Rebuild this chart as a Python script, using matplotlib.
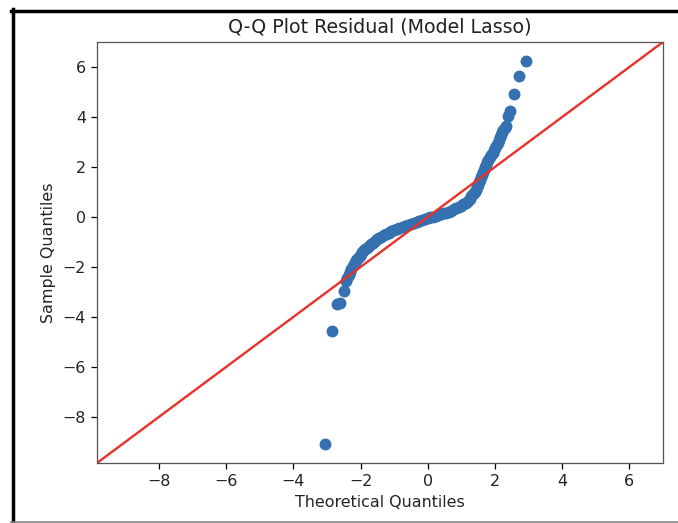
import matplotlib
matplotlib.use("Agg")
import matplotlib.pyplot as plt
from matplotlib.lines import Line2D

# Q-Q points (theoretical, sample)
theo_q = [
    -3.05, -2.84, -2.69, -2.61, -2.50,
    -2.43, -2.39, -2.35, -2.31, -2.27, -2.23, -2.19, -2.16,
    -2.12, -2.08, -2.03, -1.99, -1.95,
    -1.90, -1.86, -1.80, -1.75, -1.70,
    -1.64, -1.57, -1.51, -1.44, -1.38,
    -1.30, -1.23, -1.15, -1.08, -1.00,
    -0.92, -0.84, -0.75, -0.67, -0.58, -0.50,
    -0.42, -0.33, -0.25, -0.17, -0.08, 0.00,
    0.08, 0.16, 0.24, 0.32, 0.40, 0.48, 0.55, 0.63,
    0.70, 0.78, 0.85, 0.92, 0.99, 1.06, 1.14,
    1.20, 1.25, 1.30, 1.35, 1.40, 1.44,
    1.47, 1.50, 1.53, 1.56, 1.59,
    1.62, 1.65, 1.68, 1.71, 1.74, 1.77,
    1.81, 1.85, 1.89, 1.93, 1.97, 2.00, 2.04,
    2.08, 2.11, 2.15, 2.18, 2.22, 2.25,
    2.29, 2.33, 2.40, 2.46, 2.57, 2.72, 2.93,
]
sample_q = [
    -9.08, -4.56, -3.50, -3.45, -2.96,
    -2.56, -2.44, -2.32, -2.20, -2.09, -1.98, -1.90, -1.84,
    -1.74, -1.65, -1.55, -1.47, -1.40,
    -1.33, -1.28, -1.22, -1.14, -1.08,
    -1.02, -0.95, -0.89, -0.83, -0.78,
    -0.72, -0.67, -0.62, -0.57, -0.52,
    -0.48, -0.44, -0.40, -0.36, -0.32, -0.28,
    -0.24, -0.20, -0.16, -0.12, -0.08, -0.04,
    -0.01, 0.02, 0.05, 0.08, 0.11, 0.15, 0.18, 0.22,
    0.26, 0.31, 0.36, 0.41, 0.46, 0.52, 0.58,
    0.66, 0.74, 0.83, 0.92, 1.01, 1.10,
    1.20, 1.30, 1.40, 1.50, 1.60,
    1.70, 1.80, 1.90, 2.00, 2.10, 2.20,
    2.30, 2.39, 2.49, 2.58, 2.68, 2.77, 2.86,
    2.97, 3.08, 3.19, 3.29, 3.40, 3.50,
    3.57, 3.64, 4.04, 4.24, 4.92, 5.64, 6.24,
]

DPI = 114
plt.rcParams["text.color"] = "#222222"
plt.rcParams["axes.labelcolor"] = "#222222"
plt.rcParams["xtick.labelcolor"] = "#222222"
plt.rcParams["ytick.labelcolor"] = "#222222"

fig = plt.figure(figsize=(678 / DPI, 523 / DPI), dpi=DPI)
ax = fig.add_axes([97 / 678, 60 / 523, 566 / 678, 421 / 523])

ax.plot(theo_q, sample_q, marker="o", linestyle="none", color="#3570b0",
        markersize=6.5)

# 45 degree reference line, same limits on both axes
x0, x1 = ax.get_xlim()
y0, y1 = ax.get_ylim()
lims = [min(x0, y0), max(x1, y1)]
ax.plot(lims, lims, color="#e8312a", linewidth=1.5)
ax.set_xlim(lims)
ax.set_ylim(lims)

ax.set_title("Q-Q Plot Residual (Model Lasso)")
ax.set_xlabel("Theoretical Quantiles")
ax.set_ylabel("Sample Quantiles")
for s in ax.spines.values():
    s.set_color("#555555")

# screenshot frame
fig.add_artist(Line2D([12.5 / 678, 12.5 / 678], [0, 1 - 9 / 523],
                      color="black", linewidth=2.2, transform=fig.transFigure))
fig.add_artist(Line2D([11 / 678, 1], [1 - 10.5 / 523, 1 - 10.5 / 523],
                      color="black", linewidth=2.2, transform=fig.transFigure))
fig.add_artist(Line2D([11 / 678, 1], [1.5 / 523, 1.5 / 523],
                      color="#808080", linewidth=1.0, transform=fig.transFigure))

fig.savefig("out.png", dpi=DPI)
